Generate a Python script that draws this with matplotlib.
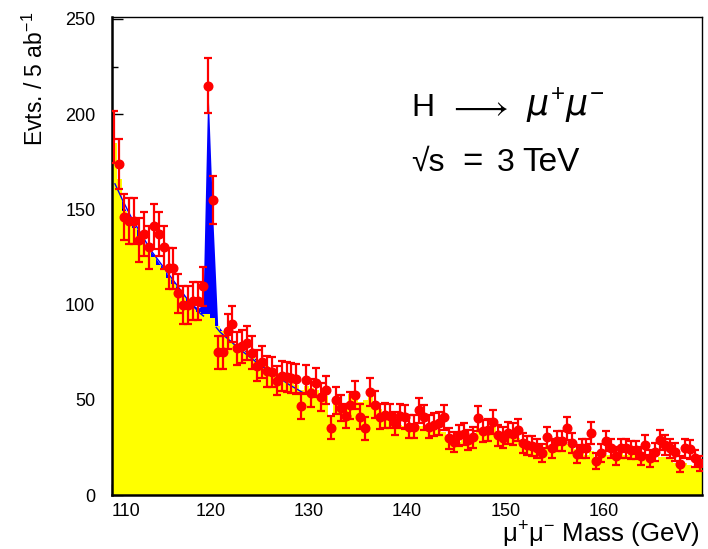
import numpy as np
import matplotlib
matplotlib.use("Agg")
import matplotlib.pyplot as plt

plt.rcParams['font.family'] = ['Liberation Sans', 'DejaVu Sans']
plt.rcParams['mathtext.default'] = 'regular'

# ---- data (0.5 GeV bins from 110 to 170 GeV) ----
bin_low = 110.0
bin_width = 0.5

data_counts = [
    188, 174, 146, 144, 144, 134, 137, 130, 141, 137,
    130, 119, 119, 106, 100, 100, 102, 102, 109.5, 215,
    155, 75, 75, 86, 89.6, 77, 78, 79.7, 74.6, 68,
    70, 65, 64.6, 60, 62.6, 62.2, 61.4, 60.8, 46.6, 60.6,
    53.6, 58.9, 51.5, 55, 35.4, 49.8, 45.7, 41.4, 47, 52.6,
    41.2, 35, 54.3, 47.5, 41.2, 41.9, 41.4, 37.6, 41.5, 41,
    35.8, 35.8, 44.5, 40.7, 35.8, 37, 37.6, 40.7, 29.7, 28,
    31.4, 32, 29, 30.2, 40.2, 33.7, 34.2, 38.4, 31.4, 30,
    32.4, 32, 34.1, 27.1, 26, 25.8, 24.5, 22.2, 30.2, 24.5,
    28.3, 28.3, 35, 27.4, 21.5, 24.5, 24.5, 32.5, 17.8, 22,
    28.5, 24.5, 20.5, 24.5, 24.5, 23.6, 23.6, 20.5, 26.2, 19.3,
    22.7, 28.8, 26.2, 24.5, 22.7, 16.3, 24.5, 24, 19.3, 16.6,
]

background = [
    185, 166, 149, 144, 140, 136, 132, 128, 125, 121,
    118, 114, 111, 107, 104, 100, 98, 96, 95, 95,
    93, 89, 86, 83, 80, 78, 77, 75, 73, 71,
    69, 68, 66, 64, 63, 62, 60, 58, 55, 57,
    56, 55, 53, 52, 42, 48, 47, 48, 53, 50,
    49, 50, 55, 48, 45, 43, 42, 40, 37, 36,
    37, 35, 36, 36, 35, 35, 34, 33, 31, 29,
    28, 29, 30, 28, 35, 34, 33, 36, 33, 31,
    30, 30, 30, 27, 25, 24, 24, 23, 26, 25,
    28, 28, 27, 25, 24, 22, 21, 23, 17, 22,
    21, 21, 20, 22, 21, 22, 21, 20, 21, 19,
    18, 20, 20, 19, 17, 15, 17, 16, 14, 14,
]

# signal + background (blue), first 24 bins; beyond that equal to background
sig_plus_bkg = [
    166, 159, 151, 146, 142, 138, 133, 129, 126, 122,
    119, 115, 112, 108, 105, 102, 100, 98, 100, 215,
    146, 89, 86, 83,
]

# fitted curve (blue line)
fit_mass_left = [110.3, 111.1, 111.95, 112.96, 113.97, 114.98, 115.99, 117.0, 118.0, 119.0, 119.3]
fit_vals_left = [163.4, 154.6, 145.9, 137.1, 128.4, 121.4, 114.4, 107.4, 100.5, 95.2, 94.0]
fit_mass_right = [120.6, 121.0, 122.0, 123.0, 124.0, 125.0, 126.0, 127.0, 128.0, 129.0, 129.5]
fit_vals_right = [88.0, 85.5, 81.0, 76.5, 72.5, 68.5, 65.0, 61.5, 58.0, 55.0, 53.5]

x_major = [110, 120, 130, 140, 150, 160]
y_major = [0, 50, 100, 150, 200, 250]

# ---- figure ----
fig = plt.figure(figsize=(7.08, 5.49), dpi=100)
ax = fig.add_axes([112/708, 1-495/549, 590/708, (495-17)/549])

n = len(data_counts)
edges = bin_low + bin_width*np.arange(n+1)
centers = 0.5*(edges[:-1] + edges[1:])
data = np.array(data_counts, dtype=float)
bkg = np.array(background, dtype=float)
sb = bkg.copy()
sb[:len(sig_plus_bkg)] = sig_plus_bkg

# blue S+B polygon (linear through bin centres)
ax.fill_between(np.concatenate([[edges[0]], centers[:30]]),
                np.concatenate([[sb[0]], sb[:30]]), 0,
                color='#0000ff', lw=0, zorder=1)
# yellow background histogram
ax.stairs(bkg, edges, fill=True, color='#ffff00', lw=0, zorder=2)

# fit line
ax.plot(fit_mass_left, fit_vals_left, color='#0000ff', lw=1.0, zorder=3)
ax.plot(fit_mass_right, fit_vals_right, color='#0000ff', lw=1.0, zorder=3)

# data points
err = np.sqrt(data)
ax.errorbar(centers, data, yerr=err, fmt='none', ecolor='#ff0000',
            elinewidth=1.6, capsize=3.2, capthick=1.6, zorder=4)
ax.plot(centers[1:], data[1:], 'o', color='#ff0000', ms=6.2, mec='#ff0000', zorder=5)

ax.set_xlim(110, 170)
ax.set_ylim(0, 251)

ax.set_xticks(x_major)
ax.set_xticks(np.arange(112, 170, 2), minor=True)
ax.set_yticks(y_major)
ax.set_yticks(np.arange(25, 250, 50), minor=True)
ax.tick_params(axis='both', which='major', direction='in', length=8, width=1.0,
               labelsize=13, top=False, right=False)
ax.tick_params(axis='both', which='minor', direction='in', length=4.5, width=1.0,
               top=False, right=False)
ax.tick_params(axis='y', which='major', pad=12)
ax.tick_params(axis='x', which='major', pad=6)
labels = ax.get_xticklabels()
labels[0].set_horizontalalignment('left')

for s in ax.spines.values():
    s.set_linewidth(1.0)
ax.spines['left'].set_linewidth(1.8)
ax.spines['bottom'].set_linewidth(1.8)

fig.text(35/708, 1-12/549, 'Evts. / 5 ab$^{-1}$', rotation=90, ha='center', va='top',
         fontsize=16.5)
fig.text(700/708, 1-535/549, 'μ$^{+}$μ$^{-}$ Mass (GeV)', ha='right', va='center',
         fontsize=18.5)

# annotation, placed piece by piece to mimic the wide TLatex spacing
y1 = 1-116/549
y2 = 1-171/549
fs = 23
fig.text(411/708, y1, 'H', ha='left', va='baseline', fontsize=fs)
fig.text(478/708, y1, r'$\longrightarrow$', ha='center', va='baseline', fontsize=fs+2)
fig.text(526/708, y1, r'$\mathit{\mu}^{+}\mathit{\mu}^{-}$', ha='left', va='baseline',
         fontsize=fs+2)
fig.text(411/708, y2, '√s', ha='left', va='baseline', fontsize=fs)
fig.text(472/708, y2, '=', ha='center', va='baseline', fontsize=fs+2)
fig.text(497/708, y2, '3', ha='left', va='baseline', fontsize=fs)
fig.text(522/708, y2, 'TeV', ha='left', va='baseline', fontsize=fs+1)

fig.savefig('out.png', dpi=100)
